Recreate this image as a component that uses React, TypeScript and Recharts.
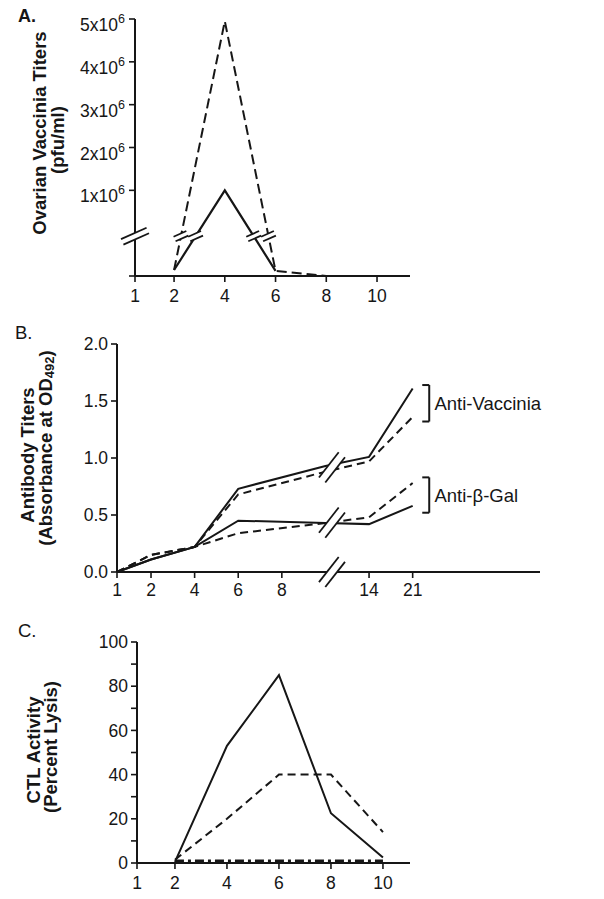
import React from 'react';
import { LineChart, Line, XAxis, YAxis, ReferenceDot, ReferenceLine } from 'recharts';

const FONT = '"Liberation Sans", Arial, Helvetica, sans-serif';
const INK = '#161616';

// ---- A. Ovarian vaccinia titers ----
// y is in drawn units: 0 = baseline, ~0.93 = scale break, 2..6 = 1x10^6..5x10^6 pfu/ml
const titerDays = [2, 4, 6, 8];
const titerSolid = [0.14, 2.0, 0.12, null];
const titerDashed = [0.14, 5.95, 0.12, 0];
const titerAxisDays = [1, 2, 4, 6, 8, 10];
const titerTicks = [0, 2, 3, 4, 5, 6];
const titerTickLabels = ['', '1x10', '2x10', '3x10', '4x10', '5x10'];
const TITER_BREAK = 0.93;

// ---- B. Antibody titers (OD492) ----
const abDays = [1, 2, 4, 6, 10, 14, 21];
const vacSolid = [0, 0.11, 0.22, 0.73, 0.93, 1.01, 1.61];
const vacDashed = [0, 0.15, 0.22, 0.68, 0.88, 0.97, 1.36];
const galSolid = [0, 0.11, 0.22, 0.45, 0.43, 0.42, 0.58];
const galDashed = [0, 0.15, 0.22, 0.34, 0.43, 0.48, 0.78];
const abAxisDays = [1, 2, 4, 6, 8, 10, 14, 21]; // 10 sits under the axis break, no label
const abTicks = [0, 0.5, 1, 1.5, 2];

// ---- C. CTL activity (% lysis) ----
const ctlDays = [2, 4, 6, 8, 10];
const lysisSolid = [0.5, 53, 85, 22.5, 2.5];
const lysisDashed = [1.5, 20, 40, 40, 14];
const lysisDashDot = [1, 1, 1, 1, 1];
const ctlAxisDays = [1, 2, 4, 6, 8, 10];
const lysisTicks = [0, 10, 20, 30, 40, 50, 60, 70, 80, 90, 100];

// day 1 sits on the y axis; the step from 1 to 2 is a bit shorter than the others
const slotter = (axisDays: number[], lead: number) => (d: number) => {
    const i = axisDays.indexOf(d);
    return i <= 0 ? 0 : i - lead;
};
const posA = slotter(titerAxisDays, 0.23);
const posB = slotter(abAxisDays, 0.22);
const posC = slotter(ctlAxisDays, 0.27);

const dayLabel = (axisDays: number[], pos: (d: number) => number) => (v: number) => {
    const d = axisDays.find(x => Math.abs(pos(x) - v) < 1e-6);
    return d == null ? '' : String(d);
};

const titerRows = titerDays.map((d, i) => ({ x: posA(d), solid: titerSolid[i], dashed: titerDashed[i] }));
const abRows = abDays.map((d, i) => ({
    x: posB(d), vacSolid: vacSolid[i], vacDashed: vacDashed[i], galSolid: galSolid[i], galDashed: galDashed[i],
}));
const ctlRows = ctlDays.map((d, i) => ({ x: posC(d), solid: lysisSolid[i], dashed: lysisDashed[i], dashDot: lysisDashDot[i] }));

// where a series crosses the titer scale break (for the little // marks)
const crossings = (vals: (number | null)[], level: number) => {
    const out: { x: number; y: number }[] = [];
    for (let i = 1; i < vals.length; i++) {
        const a = vals[i - 1], b = vals[i];
        if (a == null || b == null || (a - level) * (b - level) >= 0) continue;
        const t = (level - a) / (b - a);
        const x0 = posA(titerDays[i - 1]), x1 = posA(titerDays[i]);
        out.push({ x: x0 + t * (x1 - x0), y: level });
    }
    return out;
};
const titerBreaks = [...crossings(titerSolid, TITER_BREAK), ...crossings(titerDashed, TITER_BREAK)];

const AB_BREAK = 4.93;
const valueAt = (vals: number[], x: number) => {
    for (let i = 1; i < vals.length; i++) {
        const x0 = posB(abDays[i - 1]), x1 = posB(abDays[i]);
        if (x >= x0 && x <= x1) return vals[i - 1] + (vals[i] - vals[i - 1]) * (x - x0) / (x1 - x0);
    }
    return 0;
};
const abBreaks = [
    (valueAt(vacSolid, AB_BREAK) + valueAt(vacDashed, AB_BREAK)) / 2,
    (valueAt(galSolid, AB_BREAK) + valueAt(galDashed, AB_BREAK)) / 2,
    0,
];

const BRACKET_X = posB(21) + 0.38;
const brackets = [
    { label: 'Anti-Vaccinia', top: Math.max(vacSolid[6], vacDashed[6]) + 0.03, bottom: Math.min(vacSolid[6], vacDashed[6]) - 0.04 },
    { label: 'Anti-β-Gal', top: Math.max(galSolid[6], galDashed[6]) + 0.05, bottom: Math.min(galSolid[6], galDashed[6]) - 0.06 },
];

const BreakMark = ({ cx, cy, len, angle, gap }: any) => {
    const a = (angle * Math.PI) / 180;
    const ux = (Math.cos(a) * len) / 2, uy = (-Math.sin(a) * len) / 2;
    const nx = (Math.sin(a) * gap) / 2, ny = (Math.cos(a) * gap) / 2;
    const c1 = [cx - nx, cy - ny], c2 = [cx + nx, cy + ny];
    const poly = [
        [c1[0] - ux, c1[1] - uy], [c1[0] + ux, c1[1] + uy], [c2[0] + ux, c2[1] + uy], [c2[0] - ux, c2[1] - uy],
    ].map(p => p.join(',')).join(' ');
    return (
        <g>
            <polygon points={poly} fill="#fff" />
            <line x1={c1[0] - ux} y1={c1[1] - uy} x2={c1[0] + ux} y2={c1[1] + uy} stroke={INK} strokeWidth={1.8} />
            <line x1={c2[0] - ux} y1={c2[1] - uy} x2={c2[0] + ux} y2={c2[1] + uy} stroke={INK} strokeWidth={1.8} />
        </g>
    );
};

const TiterTick = ({ x, y, payload }: any) => {
    const label = titerTickLabels[titerTicks.indexOf(payload.value)];
    if (!label) return <g />;
    return (
        <text x={x} y={y + 6} dy="0.35em" textAnchor="end" fontSize={17.5} fill={INK} fontFamily={FONT}>
            {label}<tspan dy={-8} fontSize={12.5}>6</tspan>
        </text>
    );
};

const axisLine = { stroke: INK, strokeWidth: 2 };
const tickLine = { stroke: INK, strokeWidth: 1.6 };
const tickFont = { fontSize: 17.5, fill: INK, fontFamily: FONT };

const PanelA = () => (
    <LineChart width={604} height={312} data={titerRows} margin={{ top: 19, right: 194, bottom: 0, left: 0 }}>
        <XAxis type="number" dataKey="x" domain={[0, 5.42]} ticks={titerAxisDays.map(posA)} interval={0}
            tickFormatter={dayLabel(titerAxisDays, posA)} height={36} tickSize={6} tickMargin={8}
            axisLine={axisLine} tickLine={tickLine} tick={tickFont} />
        <YAxis type="number" domain={[0, 6]} ticks={titerTicks} interval={0} width={135} tickSize={6} tickMargin={4}
            axisLine={axisLine} tickLine={tickLine} tick={(p: any) => <TiterTick {...p} />} />
        <Line type="linear" dataKey="dashed" stroke={INK} strokeWidth={2} strokeDasharray="10 5" dot={false} activeDot={false} isAnimationActive={false} />
        <Line type="linear" dataKey="solid" stroke={INK} strokeWidth={2.2} dot={false} activeDot={false} isAnimationActive={false} />
        <ReferenceDot x={0} y={TITER_BREAK} r={0} ifOverflow="visible"
            shape={(p: any) => <BreakMark cx={p.cx} cy={p.cy} len={28} angle={24} gap={6} />} />
        {titerBreaks.map((b, i) => (
            <ReferenceDot key={i} x={b.x} y={b.y} r={0} ifOverflow="visible"
                shape={(p: any) => <BreakMark cx={p.cx} cy={p.cy} len={14} angle={24} gap={5} />} />
        ))}
    </LineChart>
);

const PanelB = () => (
    <LineChart width={604} height={292} data={abRows} margin={{ top: 24, right: 64, bottom: 0, left: 0 }}>
        <XAxis type="number" dataKey="x" domain={[0, 9.7]} ticks={abAxisDays.filter(d => d !== 10).map(posB)} interval={0}
            tickFormatter={dayLabel(abAxisDays, posB)} height={40} tickSize={6} tickMargin={6}
            axisLine={axisLine} tickLine={tickLine} tick={tickFont} />
        <YAxis type="number" domain={[0, 2]} ticks={abTicks} interval={0} width={117} tickSize={6} tickMargin={3}
            tickFormatter={(v: number) => v.toFixed(1)} axisLine={axisLine} tickLine={tickLine} tick={tickFont} />
        <Line type="linear" dataKey="vacSolid" stroke={INK} strokeWidth={2} dot={false} activeDot={false} isAnimationActive={false} />
        <Line type="linear" dataKey="vacDashed" stroke={INK} strokeWidth={2} strokeDasharray="8 5" dot={false} activeDot={false} isAnimationActive={false} />
        <Line type="linear" dataKey="galSolid" stroke={INK} strokeWidth={2} dot={false} activeDot={false} isAnimationActive={false} />
        <Line type="linear" dataKey="galDashed" stroke={INK} strokeWidth={2} strokeDasharray="8 5" dot={false} activeDot={false} isAnimationActive={false} />
        {abBreaks.map((v, i) => (
            <ReferenceDot key={i} x={AB_BREAK} y={v} r={0} ifOverflow="visible"
                shape={(p: any) => <BreakMark cx={p.cx} cy={p.cy} len={32} angle={52} gap={8} />} />
        ))}
        {brackets.map(b => (
            <React.Fragment key={b.label}>
                <ReferenceLine segment={[{ x: BRACKET_X, y: b.top }, { x: BRACKET_X, y: b.bottom }]} stroke={INK} strokeWidth={2} ifOverflow="visible" />
                <ReferenceLine segment={[{ x: BRACKET_X - 0.16, y: b.top }, { x: BRACKET_X, y: b.top }]} stroke={INK} strokeWidth={2} ifOverflow="visible" />
                <ReferenceLine segment={[{ x: BRACKET_X - 0.16, y: b.bottom }, { x: BRACKET_X, y: b.bottom }]} stroke={INK} strokeWidth={2} ifOverflow="visible" />
                <ReferenceDot x={BRACKET_X + 0.12} y={(b.top + b.bottom) / 2} r={0} ifOverflow="visible"
                    shape={(p: any) => (
                        <text x={p.cx} y={p.cy} dy="0.35em" fontSize={18.5} fill={INK} fontFamily={FONT}>{b.label}</text>
                    )} />
            </React.Fragment>
        ))}
    </LineChart>
);

const PanelC = () => (
    <LineChart width={604} height={279} data={ctlRows} margin={{ top: 22, right: 194, bottom: 0, left: 0 }}>
        <XAxis type="number" dataKey="x" domain={[0, 5.25]} ticks={ctlAxisDays.map(posC)} interval={0}
            tickFormatter={dayLabel(ctlAxisDays, posC)} height={36} tickSize={6} tickMargin={8}
            axisLine={axisLine} tickLine={tickLine} tick={tickFont} />
        <YAxis type="number" domain={[0, 100]} ticks={lysisTicks} interval={0} width={137} tickSize={6} tickMargin={3}
            tickFormatter={(v: number) => (v % 20 === 0 ? String(v) : '')} axisLine={axisLine} tickLine={tickLine} tick={tickFont} />
        <Line type="linear" dataKey="dashDot" stroke={INK} strokeWidth={2.4} strokeDasharray="9 4 3 4" dot={false} activeDot={false} isAnimationActive={false} />
        <Line type="linear" dataKey="dashed" stroke={INK} strokeWidth={2} strokeDasharray="8 5" dot={false} activeDot={false} isAnimationActive={false} />
        <Line type="linear" dataKey="solid" stroke={INK} strokeWidth={2} dot={false} activeDot={false} isAnimationActive={false} />
    </LineChart>
);

const Title = ({ x, y, children }: any) => (
    <text transform={`translate(${x},${y}) rotate(-90)`} textAnchor="middle" dominantBaseline="central"
        fontSize={18.5} fontWeight={700} fill={INK} fontFamily={FONT}>{children}</text>
);

export default function App() {
    return (
        <div style={{ position: 'absolute', left: 0, top: 0, width: 604, height: 899, background: '#fff', fontFamily: FONT }}>
            <svg width={604} height={899} style={{ position: 'absolute', left: 0, top: 0 }}>
                <text x={18} y={22} fontSize={18} fontWeight={700} fill={INK} fontFamily={FONT}>A.</text>
                <text x={15} y={339} fontSize={18.5} fill={INK} fontFamily={FONT}>B.</text>
                <text x={18} y={637} fontSize={18.5} fill={INK} fontFamily={FONT}>C.</text>
                <Title x={39} y={133}>Ovarian Vaccinia Titers</Title>
                <Title x={57} y={140}>(pfu/ml)</Title>
                <Title x={27} y={455}>Antibody Titers</Title>
                <Title x={45} y={448}>
                    (Absorbance at OD<tspan dy={4} fontSize={13}>492</tspan><tspan dy={-4}>)</tspan>
                </Title>
                <Title x={33} y={750}>CTL Activity</Title>
                <Title x={50} y={747}>(Percent Lysis)</Title>
            </svg>
            <div style={{ position: 'absolute', left: 0, top: 0 }}><PanelA /></div>
            <div style={{ position: 'absolute', left: 0, top: 320 }}><PanelB /></div>
            <div style={{ position: 'absolute', left: 0, top: 620 }}><PanelC /></div>
        </div>
    );
}
